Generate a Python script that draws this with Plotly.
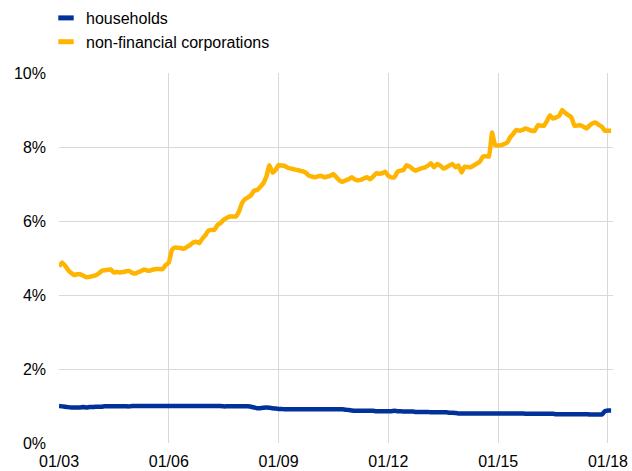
import plotly.graph_objects as go
import pandas as pd

dates = pd.date_range("2003-01-01", "2018-02-01", freq="MS")

households = [
    1.00, 0.99, 0.98, 0.97, 0.96, 0.96, 0.96, 0.96, 0.97, 0.96, 0.97, 0.97,
    0.98, 0.98, 0.98, 0.99, 0.99, 0.99, 0.99, 0.99, 0.99, 0.99, 0.99, 0.99,
    1.00, 1.00, 1.00, 1.00, 1.00, 1.00, 1.00, 1.00, 1.00, 1.00, 1.00, 1.00,
    1.00, 1.00, 1.00, 1.00, 1.00, 1.00, 1.00, 1.00, 1.00, 1.00, 1.00, 1.00,
    1.00, 1.00, 1.00, 1.00, 1.00, 1.00, 0.99, 0.99, 0.99, 0.99, 0.99, 0.99,
    0.99, 0.99, 0.99, 0.98, 0.96, 0.94, 0.94, 0.95, 0.96, 0.95, 0.94, 0.93,
    0.92, 0.92, 0.91, 0.91, 0.91, 0.91, 0.91, 0.91, 0.91, 0.91, 0.91, 0.91,
    0.91, 0.91, 0.91, 0.91, 0.91, 0.91, 0.91, 0.91, 0.91, 0.91, 0.90, 0.89,
    0.88, 0.87, 0.87, 0.87, 0.87, 0.87, 0.87, 0.87, 0.86, 0.86, 0.86, 0.86,
    0.86, 0.86, 0.87, 0.86, 0.86, 0.85, 0.85, 0.85, 0.85, 0.84, 0.84, 0.84,
    0.84, 0.84, 0.83, 0.83, 0.83, 0.83, 0.83, 0.83, 0.82, 0.82, 0.81, 0.80,
    0.80, 0.80, 0.80, 0.80, 0.80, 0.80, 0.80, 0.80, 0.80, 0.80, 0.80, 0.80,
    0.80, 0.80, 0.80, 0.80, 0.80, 0.80, 0.80, 0.80, 0.80, 0.79, 0.79, 0.79,
    0.79, 0.79, 0.79, 0.79, 0.79, 0.79, 0.79, 0.78, 0.78, 0.78, 0.78, 0.78,
    0.78, 0.78, 0.78, 0.78, 0.78, 0.78, 0.77, 0.77, 0.77, 0.77, 0.77, 0.86,
    0.88, 0.88,
]

nfc = [
    4.77, 4.88, 4.80, 4.68, 4.60, 4.54, 4.56, 4.56, 4.52, 4.48, 4.49, 4.51,
    4.53, 4.58, 4.65, 4.67, 4.68, 4.69, 4.61, 4.62, 4.61, 4.62, 4.64, 4.65,
    4.60, 4.58, 4.62, 4.65, 4.69, 4.66, 4.66, 4.69, 4.70, 4.70, 4.70, 4.81,
    4.88, 5.22, 5.28, 5.28, 5.27, 5.25, 5.30, 5.35, 5.42, 5.44, 5.40, 5.52,
    5.62, 5.74, 5.76, 5.76, 5.89, 5.94, 6.03, 6.08, 6.12, 6.12, 6.12, 6.25,
    6.48, 6.59, 6.64, 6.70, 6.82, 6.84, 6.92, 7.02, 7.20, 7.51, 7.31, 7.38,
    7.51, 7.50, 7.49, 7.44, 7.42, 7.40, 7.38, 7.36, 7.34, 7.30, 7.22, 7.20,
    7.18, 7.21, 7.22, 7.18, 7.20, 7.22, 7.27, 7.18, 7.10, 7.06, 7.10, 7.13,
    7.18, 7.12, 7.10, 7.11, 7.15, 7.18, 7.13, 7.20, 7.29, 7.28, 7.29, 7.33,
    7.22, 7.18, 7.18, 7.33, 7.36, 7.38, 7.51, 7.47, 7.40, 7.36, 7.40, 7.43,
    7.45, 7.50, 7.56, 7.45, 7.54, 7.50, 7.42, 7.45, 7.50, 7.54, 7.45, 7.50,
    7.31, 7.47, 7.46, 7.45, 7.50, 7.55, 7.60, 7.74, 7.75, 7.74, 8.39, 8.05,
    8.04, 8.05, 8.08, 8.12, 8.26, 8.36, 8.46, 8.44, 8.46, 8.50, 8.47, 8.44,
    8.44, 8.59, 8.58, 8.57, 8.70, 8.86, 8.77, 8.80, 8.84, 9.00, 8.92, 8.86,
    8.80, 8.57, 8.58, 8.59, 8.55, 8.50, 8.58, 8.64, 8.66, 8.60, 8.55, 8.44,
    8.44, 8.44,
]

series_names = ["households", "non-financial corporations"]
series_colors = ["#003299", "#FFB400"]
y_ticks = [0, 2, 4, 6, 8, 10]
y_tick_labels = ["0%", "2%", "4%", "6%", "8%", "10%"]
x_ticks = ["2003-01-01", "2006-01-01", "2009-01-01", "2012-01-01", "2015-01-01", "2018-01-01"]
x_tick_labels = ["01/03", "01/06", "01/09", "01/12", "01/15", "01/18"]

fig = go.Figure()
for name, vals, col in zip(series_names, [households, nfc], series_colors):
    fig.add_trace(go.Scatter(x=dates, y=vals, mode="lines", name=name,
                             line=dict(color=col, width=4.5, shape="spline", smoothing=0.3),
                             showlegend=False))
    fig.add_trace(go.Scatter(x=[None], y=[None], mode="markers", name=name,
                             marker=dict(symbol="line-ew", size=11,
                                         line=dict(color=col, width=6)),
                             showlegend=True))

fig.update_layout(
    width=632, height=471,
    margin=dict(l=59, r=19, t=73, b=28, autoexpand=False),
    paper_bgcolor="white", plot_bgcolor="white",
    font=dict(family="Liberation Sans, Arial", size=16, color="#000000"),
    legend=dict(x=46 / 632, y=1.0 - 1 / 471, xref="container", yref="container",
                xanchor="left", yanchor="top",
                bgcolor="rgba(0,0,0,0)",
                font=dict(size=16),
                itemsizing="trace"),
    xaxis=dict(range=["2003-01-01", "2018-02-20"], tickvals=x_ticks,
               ticktext=x_tick_labels, showgrid=True, gridcolor="#d9d9d9",
               gridwidth=1, showline=False, zeroline=False, ticks="",
               automargin=False, ticklabelstandoff=7),
    yaxis=dict(range=[0, 10], tickvals=y_ticks, ticktext=y_tick_labels,
               showgrid=True, gridcolor="#d9d9d9", gridwidth=1,
               zeroline=False, showline=False, ticks="",
               automargin=False, ticklabelstandoff=12),
)

fig.write_html("out.html", config={"displayModeBar": False},
               post_script="document.body.style.margin='0';")
